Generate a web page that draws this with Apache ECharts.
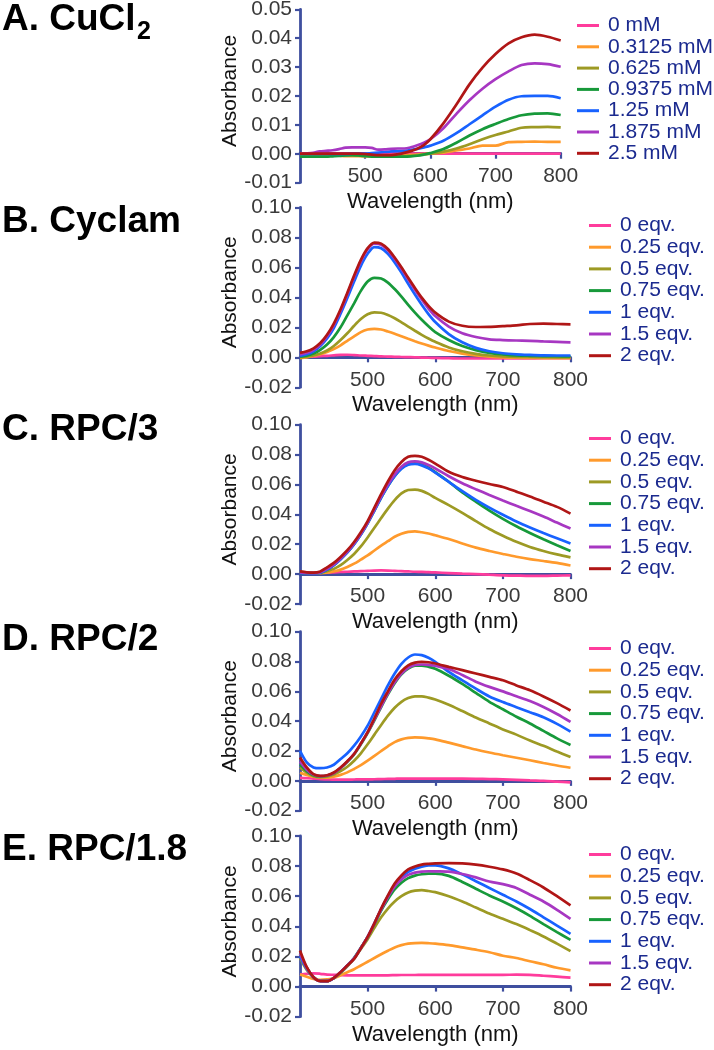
<!DOCTYPE html>
<html><head><meta charset="utf-8">
<script src="https://cdn.jsdelivr.net/npm/echarts@6/dist/echarts.min.js"></script>
<style>html,body{margin:0;padding:0;background:#fff}#c{width:714px;height:1050px}</style>
</head><body><div id="c"></div>
<script>
const wavelengths = [400,410,420,430,440,450,460,470,480,490,500,510,520,530,540,550,560,570,580,590,600,620,640,660,680,700,720,740,760,780,800];
const xTicks = [400,800,100];
const namesA = ['0 mM','0.3125 mM','0.625 mM','0.9375 mM','1.25 mM','1.875 mM','2.5 mM'];
const namesEq = ['0 eqv.','0.25 eqv.','0.5 eqv.','0.75 eqv.','1 eqv.','1.5 eqv.','2 eqv.'];
const panelTitles = ['A. CuCl','B. Cyclam','C. RPC/3','D. RPC/2','E. RPC/1.8'];

// Panel A: CuCl2
const a0 = [0,0,0,0,0,0,0,0,0,0,0,0,0,0,0,0,0,0,0,0,0,0,0,0,0,0,0,0,0,0,0];
const a1 = [0,0,-0.0002,-0.0003,-0.0005,-0.0006,-0.0007,-0.0008,-0.0008,-0.0008,-0.0008,-0.0008,-0.0008,-0.0008,-0.0008,-0.0007,-0.0006,-0.0004,-0.0003,-0.0001,0.0001,0.0004,0.0011,0.0018,0.0028,0.0028,0.004,0.0041,0.0042,0.0041,0.0041];
const a2 = [-0.0005,-0.0005,-0.0005,-0.0005,-0.0005,-0.0005,-0.0006,-0.0006,-0.0006,-0.0007,-0.0008,-0.0009,-0.001,-0.001,-0.001,-0.001,-0.0009,-0.0007,-0.0005,-0.0002,0,0.0007,0.0018,0.0033,0.005,0.0065,0.0077,0.009,0.0092,0.0093,0.0091];
const a3 = [-0.001,-0.001,-0.001,-0.001,-0.001,-0.0009,-0.0008,-0.0006,-0.0005,-0.0006,-0.0008,-0.001,-0.001,-0.001,-0.001,-0.001,-0.001,-0.0009,-0.0007,-0.0003,0.0002,0.0016,0.0038,0.0063,0.0085,0.0103,0.012,0.0133,0.0139,0.014,0.0134];
const a4 = [-0.0001,-0.0001,-0.0001,-0.0001,-0.0001,-0.0001,-0.0001,-0.0001,0,0,0,0.0002,0.0004,0.0006,0.0008,0.0009,0.001,0.0013,0.0017,0.0022,0.0028,0.0045,0.0071,0.0102,0.0133,0.0163,0.0187,0.0199,0.02,0.02,0.0192];
const a5 = [0,0.0001,0.0003,0.0008,0.001,0.0012,0.0016,0.0021,0.0022,0.0022,0.0022,0.002,0.0014,0.0015,0.0017,0.0018,0.0018,0.0022,0.0029,0.0038,0.005,0.0088,0.0138,0.0185,0.0225,0.0258,0.0285,0.0307,0.0313,0.031,0.0301];
const a6 = [0,0,0,0,0,0,0,0,0,0,-0.0001,-0.0003,-0.0005,-0.0005,-0.0005,-0.0002,0.0003,0.0009,0.0017,0.003,0.005,0.0105,0.017,0.024,0.0298,0.0345,0.0382,0.0403,0.0412,0.0405,0.0392];

// Panel B: Cyclam
const b0 = [0,0.0003,0.0005,0.0008,0.001,0.0013,0.0016,0.0017,0.0015,0.0012,0.001,0.0008,0.0006,0.0005,0.0003,0.0002,0.0001,0,-0.0002,-0.0003,-0.0004,-0.0006,-0.0008,-0.0008,-0.0008,-0.0008,-0.0008,-0.0007,-0.0006,-0.0006,-0.0006];
const b1 = [-0.0005,0,0.001,0.002,0.0035,0.0055,0.008,0.011,0.014,0.0168,0.0185,0.019,0.0185,0.0172,0.0157,0.014,0.0123,0.0107,0.0092,0.0078,0.0065,0.0042,0.0025,0.0013,0.0005,0,-0.0003,-0.0004,-0.0005,-0.0005,-0.0005];
const b2 = [0,0.0005,0.0012,0.0025,0.0045,0.0075,0.0115,0.016,0.021,0.0255,0.0287,0.03,0.0297,0.0282,0.026,0.0233,0.0205,0.0177,0.015,0.0125,0.0103,0.0066,0.004,0.0023,0.0012,0.0006,0.0003,0.0002,0.0001,0,0];
const b3 = [0.0005,0.001,0.0025,0.005,0.0085,0.0135,0.02,0.028,0.036,0.0443,0.0505,0.053,0.0525,0.0498,0.0455,0.0405,0.035,0.0298,0.025,0.0207,0.0168,0.0115,0.0075,0.0048,0.003,0.002,0.0013,0.001,0.0008,0.0007,0.0006];
const b4 = [0.001,0.002,0.004,0.0075,0.0125,0.0195,0.029,0.0395,0.0505,0.061,0.069,0.0735,0.0727,0.069,0.0633,0.0565,0.049,0.0418,0.035,0.0288,0.0235,0.0155,0.01,0.0063,0.004,0.0027,0.002,0.0016,0.0013,0.0012,0.0012];
const b5 = [0.002,0.003,0.005,0.0085,0.014,0.0215,0.031,0.042,0.0535,0.064,0.072,0.0757,0.075,0.0714,0.0657,0.059,0.052,0.045,0.0385,0.0325,0.0275,0.0205,0.016,0.0135,0.012,0.0115,0.0112,0.011,0.0106,0.0103,0.01];
const b6 = [0.003,0.004,0.006,0.0095,0.015,0.0225,0.032,0.043,0.0545,0.065,0.0728,0.0765,0.0758,0.0722,0.0665,0.06,0.053,0.0462,0.0398,0.0343,0.0298,0.0238,0.021,0.0202,0.0203,0.0208,0.0213,0.0222,0.0225,0.0222,0.022];

// Panel C: RPC/3
const c0 = [0.001,0.001,0.001,0.001,0.001,0.0012,0.0014,0.0016,0.0018,0.002,0.0022,0.0024,0.0025,0.0024,0.0022,0.002,0.0018,0.0016,0.0015,0.0013,0.0011,0.0007,0.0003,0,-0.0004,-0.0008,-0.001,-0.0012,-0.0012,-0.001,-0.0008];
const c1 = [0.0015,0.0008,0.0005,0.0006,0.001,0.0018,0.003,0.0048,0.007,0.0097,0.0125,0.0158,0.019,0.022,0.025,0.027,0.0283,0.0286,0.028,0.0272,0.026,0.0235,0.0205,0.0177,0.0155,0.0135,0.0116,0.01,0.0088,0.0075,0.0058];
const c2 = [0.0015,0.001,0.0008,0.001,0.002,0.0035,0.006,0.0095,0.0135,0.0185,0.0245,0.031,0.0375,0.0438,0.0495,0.054,0.0563,0.0566,0.0557,0.0537,0.051,0.0462,0.041,0.0355,0.0302,0.0257,0.0216,0.0182,0.0155,0.0132,0.0112];
const c3 = [0.0008,0.0006,0.0005,0.001,0.003,0.006,0.01,0.0145,0.02,0.0265,0.034,0.0425,0.0512,0.059,0.0657,0.0708,0.0737,0.0742,0.0733,0.0712,0.0683,0.0618,0.0547,0.0485,0.0425,0.037,0.032,0.0275,0.0233,0.0193,0.0155];
const c4 = [0.0008,0.0006,0.0005,0.001,0.003,0.006,0.01,0.0145,0.02,0.0265,0.034,0.0425,0.0512,0.059,0.0655,0.0705,0.0732,0.0737,0.0728,0.0708,0.068,0.0618,0.0555,0.0497,0.0445,0.0397,0.0352,0.0312,0.0275,0.024,0.0205];
const c5 = [0.0012,0.0008,0.0007,0.0013,0.0035,0.0065,0.0105,0.015,0.0205,0.027,0.0345,0.0432,0.052,0.06,0.0668,0.0718,0.0748,0.0755,0.0748,0.073,0.0707,0.0655,0.0608,0.0568,0.053,0.0493,0.0457,0.0422,0.0385,0.0345,0.0305];
const c6 = [0.0018,0.0012,0.001,0.0018,0.0045,0.0075,0.0115,0.016,0.0215,0.028,0.0355,0.0445,0.0535,0.062,0.0695,0.075,0.0785,0.0792,0.0785,0.0765,0.074,0.0685,0.065,0.0625,0.0603,0.0583,0.0552,0.052,0.0485,0.045,0.0405];

// Panel D: RPC/2
const d0 = [0.002,0.0018,0.0015,0.0012,0.001,0.0008,0.0008,0.0008,0.0009,0.001,0.001,0.0011,0.0012,0.0013,0.0014,0.0015,0.0015,0.0015,0.0015,0.0015,0.0015,0.0015,0.0015,0.0014,0.0012,0.001,0.0007,0.0003,0,-0.0005,-0.001];
const d1 = [0.0055,0.004,0.0028,0.0023,0.0022,0.0028,0.004,0.0057,0.008,0.0105,0.0135,0.0167,0.02,0.0232,0.026,0.0278,0.0288,0.0291,0.029,0.0285,0.0278,0.0256,0.0233,0.021,0.019,0.0172,0.0155,0.0138,0.012,0.0103,0.0088];
const d2 = [0.009,0.0055,0.0032,0.0025,0.0028,0.0042,0.0065,0.0095,0.0135,0.0185,0.0245,0.031,0.0375,0.0437,0.049,0.053,0.0555,0.0567,0.0567,0.0558,0.0545,0.051,0.0468,0.0425,0.0385,0.0345,0.031,0.027,0.0235,0.0197,0.016];
const d3 = [0.011,0.0065,0.0038,0.003,0.0035,0.0052,0.0085,0.0128,0.0178,0.0245,0.032,0.0405,0.0495,0.058,0.0655,0.0715,0.0752,0.0772,0.0773,0.0765,0.0752,0.0705,0.065,0.059,0.053,0.048,0.043,0.0385,0.0335,0.0285,0.024];
const d4 = [0.0202,0.0124,0.009,0.0085,0.009,0.0108,0.0146,0.0185,0.0236,0.0298,0.037,0.046,0.055,0.064,0.072,0.0785,0.0827,0.0847,0.0843,0.0825,0.0798,0.073,0.0674,0.0618,0.0566,0.0528,0.0494,0.046,0.0427,0.0382,0.033];
const d5 = [0.013,0.0075,0.0042,0.0032,0.0036,0.0053,0.0087,0.013,0.0182,0.025,0.0325,0.0412,0.05,0.0587,0.0662,0.072,0.0757,0.0777,0.078,0.0778,0.0772,0.075,0.071,0.0665,0.063,0.06,0.0567,0.0535,0.0495,0.0448,0.0395];
const d6 = [0.0157,0.009,0.0045,0.0034,0.0038,0.0056,0.009,0.0132,0.018,0.025,0.0326,0.042,0.0517,0.06,0.0679,0.0735,0.0775,0.0793,0.0798,0.0795,0.0787,0.0764,0.0742,0.072,0.0697,0.0674,0.064,0.0607,0.0566,0.0521,0.0472];

// Panel E: RPC/1.8
const e0 = [0.008,0.0085,0.0088,0.0085,0.008,0.0078,0.0076,0.0075,0.0075,0.0075,0.0075,0.0075,0.0075,0.0075,0.0076,0.0077,0.0077,0.0077,0.0078,0.0078,0.0078,0.0078,0.0078,0.0078,0.0078,0.0078,0.0079,0.0078,0.0072,0.0066,0.006];
const e1 = [0.008,0.0065,0.005,0.0045,0.0048,0.0055,0.0075,0.0095,0.0115,0.014,0.0165,0.019,0.0215,0.0238,0.026,0.0275,0.0285,0.0289,0.029,0.0288,0.0285,0.0275,0.026,0.0245,0.0228,0.0205,0.019,0.0168,0.0148,0.0125,0.0108];
const e2 = [0.019,0.011,0.0062,0.0038,0.0036,0.0055,0.009,0.0135,0.0185,0.025,0.0315,0.039,0.046,0.0518,0.0565,0.06,0.0625,0.0637,0.064,0.0635,0.0627,0.06,0.0565,0.0525,0.0485,0.045,0.0415,0.0375,0.0333,0.0285,0.0235];
const e3 = [0.022,0.0125,0.0062,0.0037,0.0036,0.0057,0.0095,0.0141,0.019,0.0258,0.0328,0.0415,0.0505,0.058,0.0645,0.069,0.072,0.0737,0.0746,0.075,0.075,0.0735,0.0695,0.065,0.0605,0.0565,0.052,0.047,0.0415,0.0362,0.031];
const e4 = [0.02,0.0118,0.006,0.0036,0.0036,0.0057,0.0096,0.0141,0.0187,0.0256,0.033,0.042,0.0515,0.06,0.0675,0.0725,0.0762,0.0783,0.0797,0.0804,0.0805,0.0785,0.0745,0.07,0.0655,0.061,0.0565,0.0515,0.046,0.0405,0.035];
const e5 = [0.022,0.0125,0.0062,0.0037,0.0036,0.0057,0.0096,0.0141,0.0187,0.0256,0.033,0.042,0.0512,0.0595,0.0665,0.0712,0.0742,0.0757,0.0764,0.0766,0.0765,0.0763,0.0748,0.0725,0.0698,0.068,0.0655,0.061,0.0565,0.051,0.045];
const e6 = [0.024,0.0129,0.0062,0.0036,0.0036,0.0058,0.0096,0.014,0.0184,0.0255,0.033,0.042,0.0518,0.0605,0.0684,0.0738,0.0778,0.0797,0.081,0.0815,0.0818,0.082,0.0818,0.081,0.0796,0.0778,0.0751,0.0707,0.0658,0.06,0.054];

const yRanges = [[-0.01,0.05,0.01],[-0.02,0.10,0.02],[-0.02,0.10,0.02],[-0.02,0.10,0.02],[-0.02,0.10,0.02]];

const colors = ['#ff3c9c','#ff9a2c','#9d9a24','#17993a','#1862ff','#a737c2','#b01616'];
const FONT = 'Liberation Sans, Arial, Helvetica, sans-serif';
const AXIS = '#3f4f9f';

const panelData = [[a0,a1,a2,a3,a4,a5,a6],[b0,b1,b2,b3,b4,b5,b6],[c0,c1,c2,c3,c4,c5,c6],[d0,d1,d2,d3,d4,d5,d6],[e0,e1,e2,e3,e4,e5,e6]];
const panelNames = [namesA,namesEq,namesEq,namesEq,namesEq];

const gridLayout = [
  {top:9.3, height:173.3, right:153.3},
  {top:207.3, height:180, right:143.5},
  {top:424.7, height:179.3, right:143.5},
  {top:631.7, height:179, right:143.5},
  {top:836, height:180.7, right:143.5}
];
const titleTops = [1.5, 203.5, 411.5, 621.5, 831.5];
const legendLayout = [
  {left:577, top:15, gap:0.3},
  {left:589, top:215, gap:0.7},
  {left:589, top:428, gap:0.7},
  {left:589, top:638, gap:0.7},
  {left:589, top:844, gap:0.7}
];

const grid = [], xAxis = [], yAxis = [], series = [], legend = [], title = [];
for (let p = 0; p < 5; p++) {
  const g = gridLayout[p];
  const yr = yRanges[p];
  // x axis sits on the zero line of the y axis
  const zeroOffset = -g.height * (0 - yr[0]) / (yr[1] - yr[0]);
  grid.push({left:300, right:g.right, top:g.top, height:g.height, outerBoundsMode:'none'});
  xAxis.push({
    type:'value', gridIndex:p, min:xTicks[0], max:xTicks[1], interval:xTicks[2],
    offset: zeroOffset,
    name:'Wavelength (nm)', nameLocation:'middle', nameGap:37,
    nameTextStyle:{fontSize:22, color:'#111', fontFamily:FONT},
    axisLine:{onZero:false, lineStyle:{color:AXIS, width:2.8}},
    axisTick:{show:true, length:5, lineStyle:{color:AXIS, width:2.2}},
    axisLabel:{showMinLabel:false, margin:12, fontSize:21, color:'#3a3a3a', fontFamily:FONT},
    splitLine:{show:false}
  });
  yAxis.push({
    type:'value', gridIndex:p, min:yr[0], max:yr[1], interval:yr[2],
    name:'Absorbance', nameLocation:'middle', nameGap:57,
    nameTextStyle:{fontSize:21, color:'#111', fontFamily:FONT, padding:[0,0,0,10]},
    axisLine:{show:true, onZero:false, lineStyle:{color:AXIS, width:2.8}},
    axisTick:{show:true, length:5, lineStyle:{color:AXIS, width:2.2}},
    axisLabel:{margin:8, fontSize:21, color:'#3a3a3a', fontFamily:FONT, formatter:v => v.toFixed(2)},
    splitLine:{show:false}
  });
  for (let k = 0; k < 7; k++) {
    series.push({
      type:'line', name:panelNames[p][k], xAxisIndex:p, yAxisIndex:p,
      data: wavelengths.map((w,i) => [w, panelData[p][k][i]]),
      showSymbol:false, symbol:'none', smooth:0.3,
      lineStyle:{color:colors[k], width:2.7},
      itemStyle:{color:colors[k]},
      z: 2 + k*0.01
    });
  }
  legend.push({
    orient:'vertical', left:legendLayout[p].left, top:legendLayout[p].top,
    itemWidth:22, itemHeight:3, itemGap:legendLayout[p].gap, icon:'rect', padding:0,
    selectedMode:false, data:panelNames[p],
    textStyle:{fontSize:21, lineHeight:20, color:'#1b2a8f', fontFamily:FONT, padding:[0,0,0,4]}
  });
  title.push({
    text:panelTitles[p], left:2, top:titleTops[p], padding:0,
    textStyle:{fontSize:37, fontWeight:'bold', color:'#000', fontFamily:FONT}
  });
}
title.push({text:'2', left:137, top:20, padding:0, textStyle:{fontSize:25, fontWeight:'bold', color:'#000', fontFamily:FONT}});

const chart = echarts.init(document.getElementById('c'), null, {renderer:'canvas'});
chart.setOption({animation:false, backgroundColor:'#fff', textStyle:{fontFamily:FONT}, title, legend, grid, xAxis, yAxis, series});
</script>
</body></html>
